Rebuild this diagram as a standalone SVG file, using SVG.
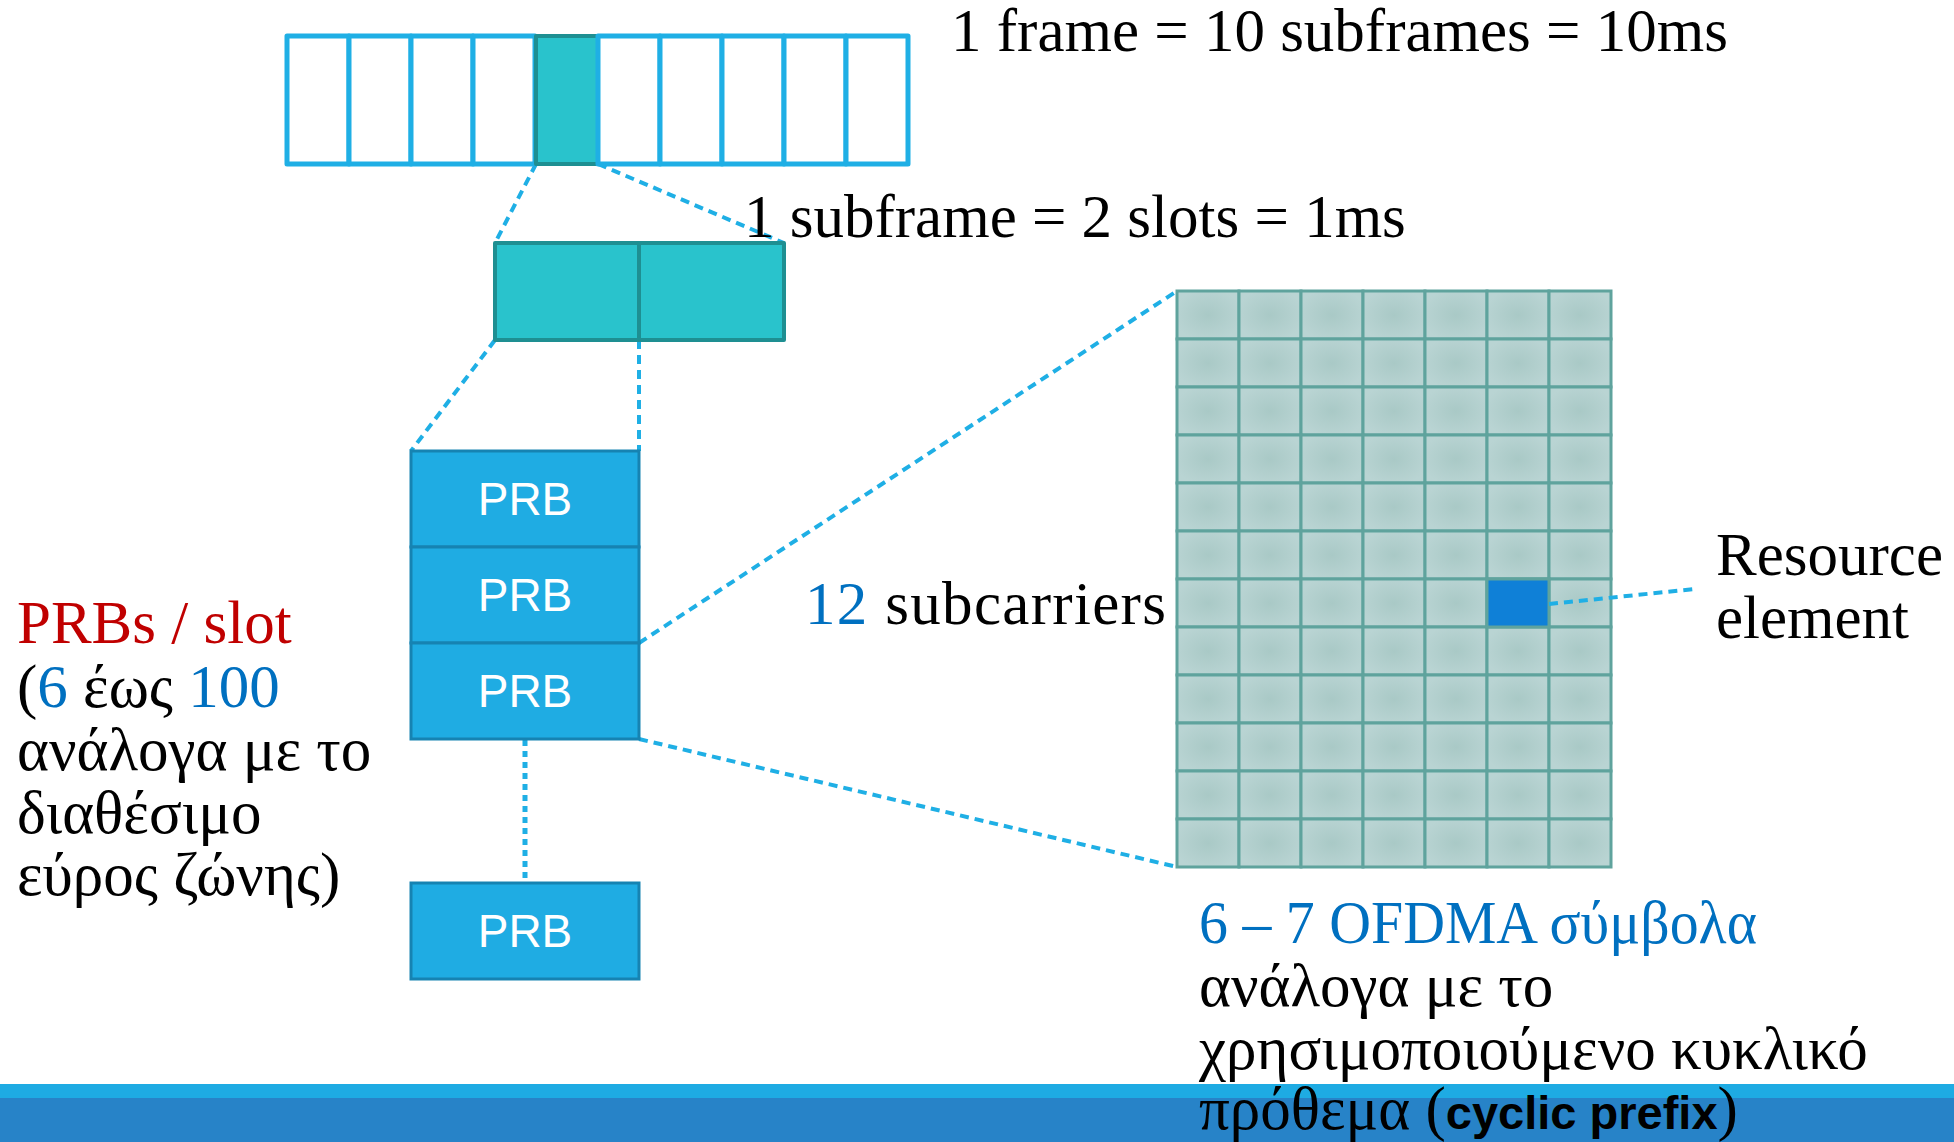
<svg xmlns="http://www.w3.org/2000/svg" width="1954" height="1142" viewBox="0 0 1954 1142">
  <defs>
    <radialGradient id="reGrad" cx="0.5" cy="0.5" r="0.55">
      <stop offset="0" stop-color="#A9C9C6"/>
      <stop offset="1" stop-color="#B9D4D3"/>
    </radialGradient>
    <style>
      .frameCell { fill: #FFFFFF; stroke: #1FAFE5; stroke-width: 5; stroke-linejoin: round; }
      .tealCell { fill: #29C3CC; stroke: #1E8F92; stroke-width: 4; stroke-linejoin: round; }
      .prb { fill: #1FACE3; stroke: #1683B2; stroke-width: 3; }
      .prbLabel { font-family: "Liberation Sans", Arial, sans-serif; font-size: 46px; fill: #FFFFFF; text-anchor: middle; }
      .re { fill: url(#reGrad); stroke: #5FA39D; stroke-width: 3; }
      .reSel { fill: #0F80D7; stroke: #5FA39D; stroke-width: 3; }
      .dash { fill: none; stroke: #1FAFE5; stroke-width: 4; stroke-dasharray: 9 6; }
      .dots { fill: none; stroke: #1FAFE5; stroke-width: 5; stroke-dasharray: 6 5; }
      .lbl { font-family: "Liberation Serif", "Times New Roman", serif; font-size: 61px; fill: #000000; }
      .blue { fill: #0070C0; }
      .red { fill: #C00000; }
      .bold { font-family: "Liberation Sans", Arial, sans-serif; font-weight: bold; font-size: 47px; }
    </style>
  </defs>

  <rect width="1954" height="1142" fill="#FFFFFF"/>

  <!-- connectors (drawn first so boxes sit above the line ends) -->
  <g id="connectors">
    <line class="dash" x1="536" y1="164" x2="495" y2="243"/>
    <line class="dash" x1="598" y1="164" x2="784" y2="243"/>
    <line class="dash" x1="495" y1="340" x2="411" y2="451"/>
    <line class="dash" x1="639" y1="340" x2="639" y2="451"/>
    <line class="dots" x1="525" y1="740" x2="525" y2="883"/>
    <line class="dash" x1="639" y1="643" x2="1177" y2="291"/>
    <line class="dash" x1="639" y1="739" x2="1177" y2="867"/>
  </g>

  <!-- frame of 10 subframes -->
  <g id="frame">
    <rect class="frameCell" x="287" y="36" width="62" height="128"/>
    <rect class="frameCell" x="349" y="36" width="62" height="128"/>
    <rect class="frameCell" x="411" y="36" width="62" height="128"/>
    <rect class="frameCell" x="473" y="36" width="62" height="128"/>
    <rect class="tealCell" x="536" y="36" width="62" height="128"/>
    <rect class="frameCell" x="598" y="36" width="62" height="128"/>
    <rect class="frameCell" x="660" y="36" width="62" height="128"/>
    <rect class="frameCell" x="722" y="36" width="62" height="128"/>
    <rect class="frameCell" x="784" y="36" width="62" height="128"/>
    <rect class="frameCell" x="846" y="36" width="62" height="128"/>
  </g>

  <!-- subframe split into 2 slots -->
  <g id="subframe">
    <rect class="tealCell" x="495" y="243" width="144" height="97"/>
    <rect class="tealCell" x="639" y="243" width="145" height="97"/>
  </g>

  <!-- physical resource blocks of one slot -->
  <g id="prb1">
    <rect class="prb" x="411" y="451" width="228" height="96"/>
    <text class="prbLabel" x="525" y="515">PRB</text>
  </g>
  <g id="prb2">
    <rect class="prb" x="411" y="547" width="228" height="96"/>
    <text class="prbLabel" x="525" y="611">PRB</text>
  </g>
  <g id="prb3">
    <rect class="prb" x="411" y="643" width="228" height="96"/>
    <text class="prbLabel" x="525" y="707">PRB</text>
  </g>
  <g id="prbN">
    <rect class="prb" x="411" y="883" width="228" height="96"/>
    <text class="prbLabel" x="525" y="947">PRB</text>
  </g>

  <!-- resource grid: 7 OFDMA symbols x 12 subcarriers -->
  <g id="resourceGrid">
    <!-- row 0 -->
    <rect class="re" x="1177" y="291" width="62" height="48"/><rect class="re" x="1239" y="291" width="62" height="48"/><rect class="re" x="1301" y="291" width="62" height="48"/><rect class="re" x="1363" y="291" width="62" height="48"/><rect class="re" x="1425" y="291" width="62" height="48"/><rect class="re" x="1487" y="291" width="62" height="48"/><rect class="re" x="1549" y="291" width="62" height="48"/>
    <!-- row 1 -->
    <rect class="re" x="1177" y="339" width="62" height="48"/><rect class="re" x="1239" y="339" width="62" height="48"/><rect class="re" x="1301" y="339" width="62" height="48"/><rect class="re" x="1363" y="339" width="62" height="48"/><rect class="re" x="1425" y="339" width="62" height="48"/><rect class="re" x="1487" y="339" width="62" height="48"/><rect class="re" x="1549" y="339" width="62" height="48"/>
    <!-- row 2 -->
    <rect class="re" x="1177" y="387" width="62" height="48"/><rect class="re" x="1239" y="387" width="62" height="48"/><rect class="re" x="1301" y="387" width="62" height="48"/><rect class="re" x="1363" y="387" width="62" height="48"/><rect class="re" x="1425" y="387" width="62" height="48"/><rect class="re" x="1487" y="387" width="62" height="48"/><rect class="re" x="1549" y="387" width="62" height="48"/>
    <!-- row 3 -->
    <rect class="re" x="1177" y="435" width="62" height="48"/><rect class="re" x="1239" y="435" width="62" height="48"/><rect class="re" x="1301" y="435" width="62" height="48"/><rect class="re" x="1363" y="435" width="62" height="48"/><rect class="re" x="1425" y="435" width="62" height="48"/><rect class="re" x="1487" y="435" width="62" height="48"/><rect class="re" x="1549" y="435" width="62" height="48"/>
    <!-- row 4 -->
    <rect class="re" x="1177" y="483" width="62" height="48"/><rect class="re" x="1239" y="483" width="62" height="48"/><rect class="re" x="1301" y="483" width="62" height="48"/><rect class="re" x="1363" y="483" width="62" height="48"/><rect class="re" x="1425" y="483" width="62" height="48"/><rect class="re" x="1487" y="483" width="62" height="48"/><rect class="re" x="1549" y="483" width="62" height="48"/>
    <!-- row 5 -->
    <rect class="re" x="1177" y="531" width="62" height="48"/><rect class="re" x="1239" y="531" width="62" height="48"/><rect class="re" x="1301" y="531" width="62" height="48"/><rect class="re" x="1363" y="531" width="62" height="48"/><rect class="re" x="1425" y="531" width="62" height="48"/><rect class="re" x="1487" y="531" width="62" height="48"/><rect class="re" x="1549" y="531" width="62" height="48"/>
    <!-- row 6 -->
    <rect class="re" x="1177" y="579" width="62" height="48"/><rect class="re" x="1239" y="579" width="62" height="48"/><rect class="re" x="1301" y="579" width="62" height="48"/><rect class="re" x="1363" y="579" width="62" height="48"/><rect class="re" x="1425" y="579" width="62" height="48"/><rect class="re" x="1487" y="579" width="62" height="48"/><rect class="re" x="1549" y="579" width="62" height="48"/>
    <!-- row 7 -->
    <rect class="re" x="1177" y="627" width="62" height="48"/><rect class="re" x="1239" y="627" width="62" height="48"/><rect class="re" x="1301" y="627" width="62" height="48"/><rect class="re" x="1363" y="627" width="62" height="48"/><rect class="re" x="1425" y="627" width="62" height="48"/><rect class="re" x="1487" y="627" width="62" height="48"/><rect class="re" x="1549" y="627" width="62" height="48"/>
    <!-- row 8 -->
    <rect class="re" x="1177" y="675" width="62" height="48"/><rect class="re" x="1239" y="675" width="62" height="48"/><rect class="re" x="1301" y="675" width="62" height="48"/><rect class="re" x="1363" y="675" width="62" height="48"/><rect class="re" x="1425" y="675" width="62" height="48"/><rect class="re" x="1487" y="675" width="62" height="48"/><rect class="re" x="1549" y="675" width="62" height="48"/>
    <!-- row 9 -->
    <rect class="re" x="1177" y="723" width="62" height="48"/><rect class="re" x="1239" y="723" width="62" height="48"/><rect class="re" x="1301" y="723" width="62" height="48"/><rect class="re" x="1363" y="723" width="62" height="48"/><rect class="re" x="1425" y="723" width="62" height="48"/><rect class="re" x="1487" y="723" width="62" height="48"/><rect class="re" x="1549" y="723" width="62" height="48"/>
    <!-- row 10 -->
    <rect class="re" x="1177" y="771" width="62" height="48"/><rect class="re" x="1239" y="771" width="62" height="48"/><rect class="re" x="1301" y="771" width="62" height="48"/><rect class="re" x="1363" y="771" width="62" height="48"/><rect class="re" x="1425" y="771" width="62" height="48"/><rect class="re" x="1487" y="771" width="62" height="48"/><rect class="re" x="1549" y="771" width="62" height="48"/>
    <!-- row 11 -->
    <rect class="re" x="1177" y="819" width="62" height="48"/><rect class="re" x="1239" y="819" width="62" height="48"/><rect class="re" x="1301" y="819" width="62" height="48"/><rect class="re" x="1363" y="819" width="62" height="48"/><rect class="re" x="1425" y="819" width="62" height="48"/><rect class="re" x="1487" y="819" width="62" height="48"/><rect class="re" x="1549" y="819" width="62" height="48"/>
  </g>

  <!-- highlighted resource element and its pointer -->
  <g id="resourceElement">
    <rect class="reSel" x="1487" y="579" width="62" height="48"/>
    <line class="dash" x1="1549" y1="604" x2="1695" y2="589"/>
  </g>

  <!-- bottom band -->
  <g id="footer">
    <rect x="0" y="1084" width="1954" height="14" fill="#1EABE3"/>
    <rect x="0" y="1098" width="1954" height="44" fill="#2783C8"/>
  </g>

  <!-- labels -->
  <g id="labels">
    <text class="lbl" x="951" y="51">1 frame = 10 subframes = 10ms</text>
    <text class="lbl" x="744" y="237">1 subframe = 2 slots = 1ms</text>
    <text class="lbl" x="805" y="624" textLength="361"><tspan class="blue">12</tspan> subcarriers</text>
    <text class="lbl" x="1716" y="575">Resource</text>
    <text class="lbl" x="1716" y="638">element</text>

    <text class="lbl" x="17" y="643"><tspan class="red">PRBs / slot</tspan></text>
    <text class="lbl" x="17" y="707">(<tspan class="blue">6</tspan> έως <tspan class="blue">100</tspan></text>
    <text class="lbl" x="17" y="770">ανάλογα με το</text>
    <text class="lbl" x="17" y="833">διαθέσιμο</text>
    <text class="lbl" x="17" y="895">εύρος ζώνης)</text>

    <text class="lbl blue" x="1199" y="943" textLength="558" lengthAdjust="spacingAndGlyphs">6 – 7 OFDMA σύμβολα</text>
    <text class="lbl" x="1199" y="1006">ανάλογα με το</text>
    <text class="lbl" x="1199" y="1069">χρησιμοποιούμενο κυκλικό</text>
    <text class="lbl" x="1199" y="1129">πρόθεμα (<tspan class="bold">cyclic prefix</tspan>)</text>
  </g>
</svg>
